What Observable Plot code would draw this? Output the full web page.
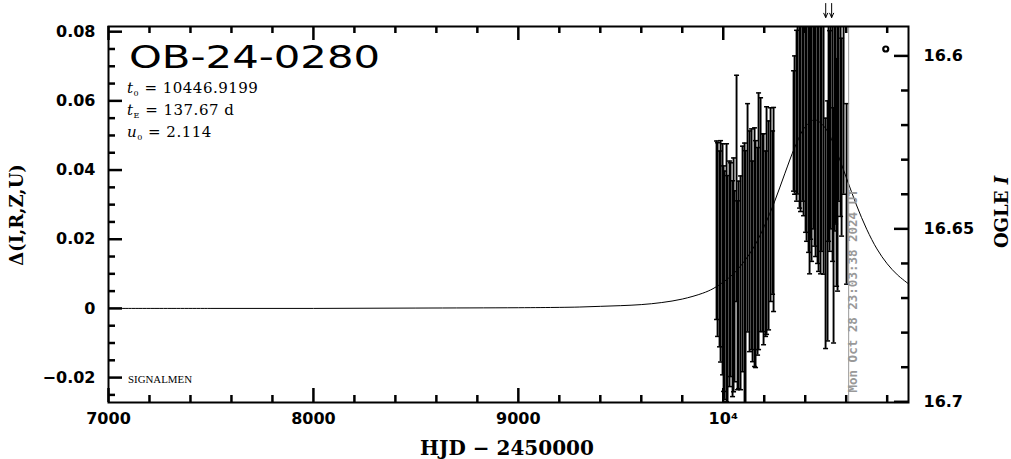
<!DOCTYPE html>
<html>
<head>
<meta charset="utf-8">
<script src="https://cdn.jsdelivr.net/npm/d3@7"></script>
<script src="https://cdn.jsdelivr.net/npm/@observablehq/plot@0.6"></script>
<style>
html, body { margin: 0; padding: 0; background: #fff; }
#chart svg { display: block; }
</style>
</head>
<body>
<div id="chart"></div>
<script>
// ---------- data ----------
const eventName = "OB-24-0280";
const paramT0 = "10446.9199";
const paramTE = "137.67 d";
const paramU0 = "2.114";
const nowLabel = "Mon Oct 28 23:03:38 2024 UT";
const nowT = [10612];
const arrowT = [10500, 10529];
const ogleMarker = [{t: 10793, d: 0.0750}];
const baseMag = 16.673; // OGLE I at delta = 0

// model light curve (HJD-2450000, delta mag)
const modelT = [7000, 7500, 8000, 8500, 9000, 9200, 9300, 9400, 9500, 9600, 9700, 9800, 9900, 9950, 10000, 10050, 10100, 10150, 10200, 10250, 10300, 10350, 10400, 10447, 10500, 10550, 10600, 10650, 10700, 10750, 10800, 10850, 10904];
const modelD = [0.0000, 0.0000, 0.0000, 0.0001, 0.0002, 0.0003, 0.0004, 0.0006, 0.0008, 0.0011, 0.0017, 0.0027, 0.0044, 0.0057, 0.0076, 0.0100, 0.0134, 0.0178, 0.0237, 0.0308, 0.0389, 0.0467, 0.0525, 0.0545, 0.0520, 0.0458, 0.0379, 0.0299, 0.0229, 0.0172, 0.0129, 0.0097, 0.0071];

// season 1 observations
const season1T = [9967.3, 9972.2, 9981.9, 9986.8, 9996.6, 10001.5, 10006.3, 10016.1, 10021.0, 10030.7, 10035.6, 10045.4, 10050.3, 10055.1, 10064.9, 10069.8, 10074.7, 10084.4, 10094.2, 10103.9, 10108.8, 10118.6, 10128.4, 10138.1, 10143.0, 10152.8, 10157.6, 10167.4, 10172.3, 10182.1, 10191.8, 10196.7, 10206.4, 10211.3, 10221.1, 10230.9, 10240.6, 10245.5];
const season1D = [0.0226, 0.0199, 0.0172, 0.0165, 0.0142, 0.0086, 0.0067, 0.0103, 0.0054, 0.0100, 0.0112, 0.0057, 0.0097, 0.0064, 0.0347, 0.0038, 0.0068, 0.0074, 0.0143, 0.0101, 0.0078, 0.0262, 0.0194, 0.0200, 0.0136, 0.0177, 0.0157, 0.0165, 0.0252, 0.0271, 0.0219, 0.0200, 0.0187, 0.0254, 0.0240, 0.0300, 0.0277, 0.0286];
const season1E = [0.0258, 0.0280, 0.0283, 0.0320, 0.0334, 0.0326, 0.0330, 0.0373, 0.0330, 0.0326, 0.0309, 0.0312, 0.0338, 0.0276, 0.0327, 0.0273, 0.0300, 0.0309, 0.0326, 0.0377, 0.0378, 0.0330, 0.0319, 0.0319, 0.0290, 0.0345, 0.0328, 0.0300, 0.0371, 0.0338, 0.0286, 0.0305, 0.0268, 0.0329, 0.0302, 0.0280, 0.0236, 0.0295];

// season 2 observations
const season2T = [10343.1, 10348.0, 10357.7, 10362.6, 10372.4, 10377.2, 10387.0, 10391.9, 10401.7, 10406.5, 10416.3, 10421.2, 10426.1, 10431.0, 10440.7, 10445.6, 10450.5, 10460.2, 10465.1, 10474.9, 10479.8, 10489.5, 10499.3, 10509.0, 10513.9, 10518.8, 10523.7, 10533.4, 10538.3, 10543.2, 10548.1, 10553.0, 10557.8, 10562.7, 10572.5, 10577.4, 10587.2, 10601.8];
const season2D = [0.0513, 0.0530, 0.0557, 0.0606, 0.0595, 0.0600, 0.0585, 0.0608, 0.0550, 0.0547, 0.0506, 0.0520, 0.0540, 0.0518, 0.0550, 0.0550, 0.0520, 0.0530, 0.0494, 0.0500, 0.0508, 0.0485, 0.0217, 0.0253, 0.0547, 0.0484, 0.0565, 0.0508, 0.0240, 0.0547, 0.0572, 0.0393, 0.0450, 0.0595, 0.0548, 0.0495, 0.0615, 0.0331];
const season2E = [0.0174, 0.0200, 0.0247, 0.0275, 0.0305, 0.0320, 0.0275, 0.0340, 0.0330, 0.0353, 0.0344, 0.0420, 0.0340, 0.0382, 0.0320, 0.0370, 0.0370, 0.0400, 0.0387, 0.0400, 0.0343, 0.0386, 0.0333, 0.0347, 0.0353, 0.0319, 0.0335, 0.0372, 0.0340, 0.0323, 0.0328, 0.0329, 0.0400, 0.0285, 0.0282, 0.0286, 0.0285, 0.0261];

// axes
const xDomain = [7000, 10904];
const yDomain = [-0.0272, 0.0815];
const xMajor = [7000, 8000, 9000, 10000];
const xMinor = [7200, 7400, 7600, 7800, 8200, 8400, 8600, 8800, 9200, 9400, 9600, 9800, 10200, 10400, 10600, 10800];
const yMajor = [-0.02, 0, 0.02, 0.04, 0.06, 0.08];
const yMinor = [-0.025, -0.015, -0.01, -0.005, 0.005, 0.01, 0.015, 0.025, 0.03, 0.035, 0.045, 0.05, 0.055, 0.065, 0.07, 0.075];
const magMajor = [16.6, 16.65, 16.7];
const magMinor = [16.61, 16.62, 16.63, 16.64, 16.66, 16.67, 16.68, 16.69];

// ---------- tables ----------
const [xLo, xHi] = xDomain, [yLo, yHi] = yDomain;
const model = modelT.map((t, i) => ({t, d: modelD[i]}));
const obs = [
  ...season1T.map((t, i) => ({t, d: season1D[i], e: season1E[i]})),
  ...season2T.map((t, i) => ({t, d: season2D[i], e: season2E[i]}))
].map(o => ({...o, lo: o.d - o.e, hi: o.d + o.e}));
// error bars are cut at the frame edges, caps only where the bar ends inside
const bars = obs.map(o => ({t: o.t, lo: Math.max(o.lo, yLo), hi: Math.min(o.hi, yHi)}));
const capsLo = obs.filter(o => o.lo > yLo).map(o => ({t: o.t, y: o.lo}));
const capsHi = obs.filter(o => o.hi < yHi).map(o => ({t: o.t, y: o.hi}));
const magMajorD = magMajor.map(m => baseMag - m);
const magMinorD = magMinor.map(m => baseMag - m);

const W = 1011, H = 459, ML = 108, MR = 103, MT = 26, MB = 57;
const innerW = W - ML - MR, innerH = H - MT - MB;
const uy = (yDomain[1] - yDomain[0]) / innerH;

const capSymbol = {draw(ctx) { ctx.moveTo(-2.5, 0); ctx.lineTo(2.5, 0); }};
const fmtX = d => d === 10000 ? "10\u2074" : String(d);
const fmtY = d => d === 0 ? "0" : (d < 0 ? "\u2212" : "") + Math.abs(d).toFixed(2);
const fmtMag = d => String(Math.round((baseMag - d) * 100) / 100);
const tickFont = {fontSize: 16, fontWeight: "bold", fontFamily: "DejaVu Sans", fill: "black"};
const tk = {stroke: "black", strokeWidth: 2.5};

const svg = Plot.plot({
  width: W, height: H,
  marginLeft: ML, marginRight: MR, marginTop: MT, marginBottom: MB,
  style: {background: "white", color: "black", overflow: "visible"},
  x: {domain: xDomain},
  y: {domain: yDomain},
  marks: [
    // frame ticks (inward)
    Plot.ruleX(xMajor, {x: d => d, insetTop: innerH - 14, ...tk}),
    Plot.ruleX(xMajor, {x: d => d, insetBottom: innerH - 14, ...tk}),
    Plot.ruleX(xMinor, {x: d => d, insetTop: innerH - 7, ...tk}),
    Plot.ruleX(xMinor, {x: d => d, insetBottom: innerH - 7, ...tk}),
    Plot.ruleY(yMajor, {y: d => d, insetRight: innerW - 14, ...tk}),
    Plot.ruleY(yMinor, {y: d => d, insetRight: innerW - 7, ...tk}),
    Plot.ruleY(magMajorD, {y: d => d, insetLeft: innerW - 14, ...tk}),
    Plot.ruleY(magMinorD, {y: d => d, insetLeft: innerW - 7, ...tk}),
    Plot.line(model, {x: "t", y: "d", stroke: "black", strokeWidth: 1, curve: "catmull-rom"}),
    Plot.ruleX(bars, {x: "t", y1: "lo", y2: "hi", stroke: "black", strokeWidth: 1.9}),
    Plot.dot(capsLo, {x: "t", y: "y", symbol: capSymbol, stroke: "black", strokeWidth: 1.5}),
    Plot.dot(capsHi, {x: "t", y: "y", symbol: capSymbol, stroke: "black", strokeWidth: 1.5}),
    Plot.ruleX(nowT, {x: d => d, stroke: "#999", strokeWidth: 1}),
    Plot.text(nowT, {x: d => d, frameAnchor: "bottom", text: () => nowLabel, rotate: -90, textAnchor: "start",
      dx: 8, dy: -10, fontFamily: "DejaVu Sans Mono", fontWeight: "bold", fontSize: 12.5, fill: "#999"}),
    Plot.dot(ogleMarker, {x: "t", y: "d", r: 2.5, stroke: "black", strokeWidth: 2.2, fill: "white"}),
    Plot.arrow(arrowT, {x: d => d, y1: yHi + 23 * uy, y2: yHi + 9 * uy, stroke: "black", strokeWidth: 1, headLength: 7, headAngle: 50}),
    Plot.frame({stroke: "black", strokeWidth: 2}),
    // tick labels
    Plot.axisX(xMajor, {anchor: "bottom", tickSize: 0, tickPadding: 10, tickFormat: fmtX, label: null, ...tickFont}),
    Plot.axisY(yMajor, {anchor: "left", tickSize: 0, tickPadding: 13, tickFormat: fmtY, label: null, ...tickFont}),
    Plot.axisY(magMajorD, {anchor: "right", tickSize: 0, tickPadding: 15, tickFormat: fmtMag, label: null, ...tickFont})
  ]
});

document.getElementById("chart").appendChild(svg);

// ---------- annotations (text) ----------
const s = d3.select(svg);
s.append("text")
  .attr("x", 129).attr("y", 68)
  .attr("text-anchor", "start")
  .attr("font-family", "DejaVu Sans").attr("font-size", 32)
  .attr("textLength", 251).attr("lengthAdjust", "spacingAndGlyphs")
  .attr("fill", "black")
  .text(eventName);

function paramLine(y, sym, sub, val) {
  const t = s.append("text").attr("x", 127).attr("y", y)
    .attr("text-anchor", "start")
    .attr("font-family", "DejaVu Serif").attr("font-size", 15).attr("fill", "black")
    .attr("letter-spacing", "0.5px");
  t.append("tspan").attr("font-style", "italic").text(sym);
  t.append("tspan").attr("font-size", 8).attr("dy", 3).text(sub);
  t.append("tspan").attr("dy", -3).text(" = " + val);
}
paramLine(93, "t", "0", paramT0);
paramLine(115, "t", "E", paramTE);
paramLine(137, "u", "0", paramU0);

s.append("text")
  .attr("x", 128).attr("y", 383)
  .attr("text-anchor", "start")
  .attr("font-family", "Liberation Serif").attr("font-size", 10)
  .attr("textLength", 64).attr("lengthAdjust", "spacingAndGlyphs")
  .attr("fill", "black")
  .text("SIGNALMEN");

s.append("text")
  .attr("x", 507).attr("y", 455)
  .attr("text-anchor", "middle")
  .attr("font-family", "DejaVu Serif").attr("font-weight", "bold").attr("font-size", 20)
  .attr("fill", "black")
  .text("HJD \u2212 2450000");

s.append("text")
  .attr("transform", "translate(23,215) rotate(-90)")
  .attr("text-anchor", "middle")
  .attr("font-family", "DejaVu Serif").attr("font-weight", "bold").attr("font-size", 18)
  .attr("fill", "black")
  .text("\u0394(I,R,Z,U)");

const og = s.append("text")
  .attr("transform", "translate(1008,212) rotate(-90)")
  .attr("text-anchor", "middle")
  .attr("font-family", "DejaVu Serif").attr("font-weight", "bold").attr("font-size", 18)
  .attr("fill", "black");
og.append("tspan").text("OGLE ");
og.append("tspan").attr("font-style", "italic").text("I");
</script>
</body>
</html>
